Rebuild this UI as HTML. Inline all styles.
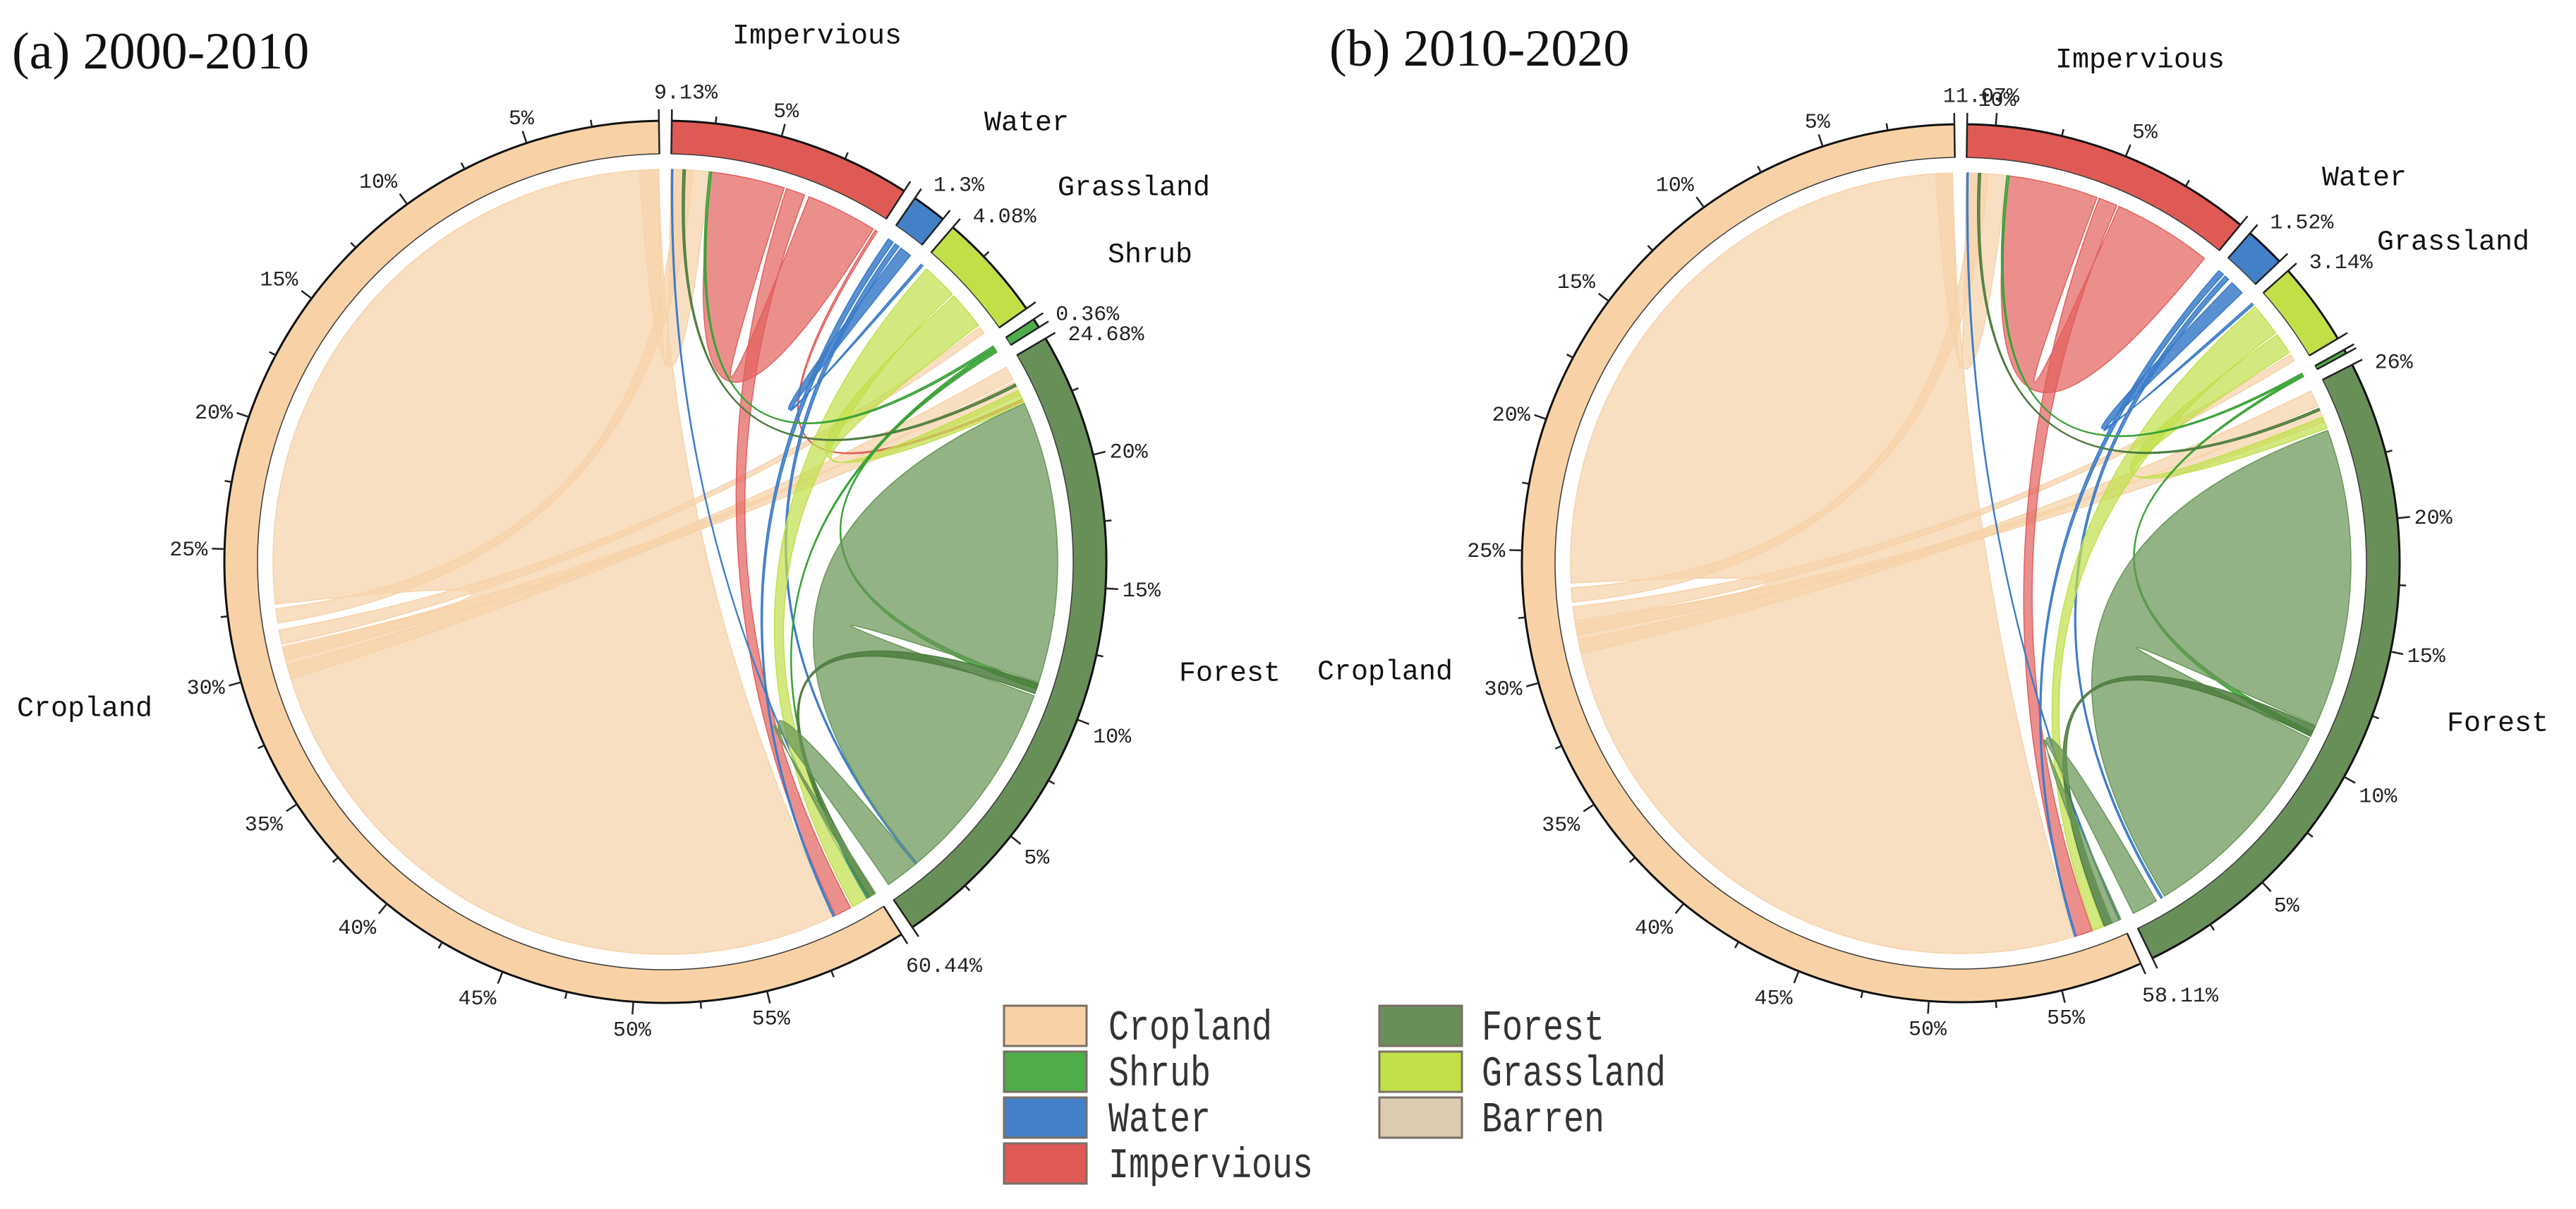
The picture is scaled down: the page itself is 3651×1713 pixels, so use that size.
<!DOCTYPE html>
<html><head><meta charset="utf-8">
<style>
html,body{margin:0;padding:0;background:#fff;}
svg{display:block;}
</style></head>
<body>
<svg id="chart" width="3651" height="1713" viewBox="0 0 3651 1713" xmlns="http://www.w3.org/2000/svg">
<rect x="0" y="0" width="3651" height="1713" fill="#ffffff"/>
<text x="17" y="97" font-family="Liberation Serif, serif" font-size="74" fill="#111">(a) 2000-2010</text>
<text x="1884" y="93" font-family="Liberation Serif, serif" font-size="74" fill="#111">(b) 2010-2020</text>
<g id="pa"></g>
<g id="pb"></g>
<g id="legend"></g>
</svg>
<script>
// ---- data ----
const classOrder = ['Impervious','Water','Grassland','Shrub','Forest','Cropland'];
const sharesA = [9.13, 1.3, 4.08, 0.36, 24.68, 60.44];
const sharesB = [11.07, 1.52, 3.14, 0.16, 26.0, 58.11];
const totalLabelsA = ['9.13%','1.3%','4.08%','0.36%','24.68%','60.44%'];
const totalLabelsB = ['11.07%','1.52%','3.14%','','26%','58.11%'];
// flows: [source, srcFrom%, srcTo%, target, dstFrom%, dstTo%, colourClass]
const flowsA = [
 ['Cropland',2.0,31.4,'Cropland',33.2,60.4,'Cropland'],
 ['Cropland',59.6,60.4,'Impervious',0,1.6,'Cropland'],
 ['Cropland',32.4,33.0,'Impervious',0.2,0.9,'Cropland'],
 ['Cropland',30.0,30.6,'Forest',0.2,0.8,'Cropland'],
 ['Cropland',30.8,31.3,'Forest',0.9,1.5,'Cropland'],
 ['Cropland',31.5,32.1,'Grassland',3.6,3.9,'Cropland'],
 ['Impervious',1.7,4.8,'Impervious',5.9,8.9,'Impervious'],
 ['Impervious',4.9,5.7,'Cropland',1.2,1.9,'Impervious'],
 ['Impervious',9.0,9.1,'Forest',1.7,1.8,'Impervious'],
 ['Impervious',0.02,0.08,'Cropland',0.38,0.42,'Water'],
 ['Water',0.05,0.3,'Cropland',1.95,2.02,'Water'],
 ['Water',0.4,0.6,'Forest',23.0,23.08,'Water'],
 ['Water',0.7,1.2,'Grassland',0.0,0.1,'Water'],
 ['Grassland',0.3,1.8,'Cropland',0.45,1.1,'Grassland'],
 ['Grassland',1.9,3.5,'Forest',1.3,1.9,'Grassland'],
 ['Shrub',0.0,0.1,'Impervious',1.6,1.7,'Shrub'],
 ['Shrub',0.1,0.2,'Cropland',0.3,0.36,'Shrub'],
 ['Shrub',0.2,0.3,'Forest',13.9,14.1,'Shrub'],
 ['Forest',1.9,13.8,'Forest',14.4,23.0,'Forest'],
 ['Forest',13.85,14.3,'Cropland',0.05,0.3,'ForestDark'],
 ['Forest',23.1,24.5,'Cropland',0.0,0.25,'Forest'],
 ['Forest',1.0,1.1,'Impervious',0.5,0.6,'ForestDark']
];
const flowsB = [
 ['Cropland',2.1,30.2,'Cropland',31.8,58.0,'Cropland'],
 ['Cropland',57.3,58.0,'Impervious',0,1.7,'Cropland'],
 ['Cropland',31.0,31.6,'Impervious',0.2,0.9,'Cropland'],
 ['Cropland',28.8,29.4,'Forest',0.2,0.9,'Cropland'],
 ['Cropland',29.6,30.1,'Forest',1.0,1.6,'Cropland'],
 ['Cropland',30.2,30.8,'Grassland',2.7,3.0,'Cropland'],
 ['Impervious',1.8,5.6,'Impervious',6.6,10.8,'Impervious'],
 ['Impervious',5.7,6.5,'Cropland',1.3,2.0,'Impervious'],
 ['Impervious',0.02,0.08,'Cropland',0.05,0.1,'Water'],
 ['Water',0.05,0.3,'Cropland',2.0,2.07,'Water'],
 ['Water',0.4,0.6,'Forest',24.5,24.58,'Water'],
 ['Water',0.8,1.4,'Grassland',0.0,0.1,'Water'],
 ['Grassland',0.2,1.6,'Cropland',0.8,1.25,'Grassland'],
 ['Grassland',1.7,2.6,'Forest',1.4,1.9,'Grassland'],
 ['Shrub',0.0,0.08,'Impervious',1.7,1.8,'Shrub'],
 ['Shrub',0.08,0.16,'Forest',15.0,15.2,'Shrub'],
 ['Forest',2.0,14.7,'Forest',15.3,24.4,'Forest'],
 ['Forest',14.75,15.2,'Cropland',0.4,0.75,'ForestDark'],
 ['Forest',24.8,25.9,'Cropland',0.0,0.4,'Forest'],
 ['Forest',1.0,1.1,'Impervious',0.5,0.6,'ForestDark']
];
const legendClasses = ['Cropland','Shrub','Water','Impervious','Forest','Grassland','Barren'];

// ---- style ----
const ringColor = {Cropland:'#f8d2a6',Impervious:'#df5a55',Water:'#4280c8',Grassland:'#c1e048',Shrub:'#4fad49',Forest:'#698f58',Barren:'#dccbb1'};
const ribColor = {Cropland:'#f6d2a9',Impervious:'#e25f5c',Water:'#3c7cc8',Grassland:'#c0e04a',Shrub:'#3aa236',Forest:'#6a9658',ForestDark:'#4d7d3e'};
const ribOpacity = {Cropland:0.72,Impervious:0.7,Water:0.85,Grassland:0.7,Shrub:0.85,Forest:0.72,ForestDark:0.85};
const NS='http://www.w3.org/2000/svg';
const S=3.5;

function mk(tag,parent){const e=document.createElementNS(NS,tag);parent.appendChild(e);return e;}
function pt(cx,cy,r,deg){const a=deg*Math.PI/180;return [cx+r*Math.sin(a),cy-r*Math.cos(a)];}

function drawPanel(g,cx,cy,rOut,shares,totals,flows,tag){
  const rIn=rOut-47, R=rIn-22;
  const sum=shares.reduce((a,b)=>a+b,0);
  const gap=(360-sum*S)/shares.length;
  const seg={};
  let a=gap/2;
  classOrder.forEach((c,i)=>{seg[c]=[a,a+shares[i]*S];a+=shares[i]*S+gap;});
  const rg=mk('g',g);
  
  
  flows.forEach(f=>{
    const a0=seg[f[0]][0]+f[1]*S, a1=seg[f[0]][0]+f[2]*S;
    const b0=seg[f[3]][0]+f[4]*S, b1=seg[f[3]][0]+f[5]*S;
    const p0=pt(cx,cy,R,a0),p1=pt(cx,cy,R,a1),q0=pt(cx,cy,R,b0),q1=pt(cx,cy,R,b1);
    const la=(a1-a0)>180?1:0, lb=(b1-b0)>180?1:0;
    const d=`M${p0[0]},${p0[1]} A${R},${R} 0 ${la} 1 ${p1[0]},${p1[1]} Q${cx},${cy} ${q0[0]},${q0[1]} A${R},${R} 0 ${lb} 1 ${q1[0]},${q1[1]} Q${cx},${cy} ${p0[0]},${p0[1]} Z`;
    const p=mk('path',rg);
    p.setAttribute('d',d);
    p.setAttribute('fill',ribColor[f[6]]);
    p.setAttribute('fill-opacity',ribOpacity[f[6]]);
    p.setAttribute('stroke',ribColor[f[6]]);
    p.setAttribute('stroke-width','1.5');
    
    
  });
  classOrder.forEach((c,i)=>{
    const [s,e]=seg[c];
    const la=(e-s)>180?1:0;
    const o0=pt(cx,cy,rOut,s),o1=pt(cx,cy,rOut,e),i0=pt(cx,cy,rIn,s),i1=pt(cx,cy,rIn,e);
    const p=mk('path',g);
    p.setAttribute('d',`M${o0[0]},${o0[1]} A${rOut},${rOut} 0 ${la} 1 ${o1[0]},${o1[1]} L${i1[0]},${i1[1]} A${rIn},${rIn} 0 ${la} 0 ${i0[0]},${i0[1]} Z`);
    p.setAttribute('fill',ringColor[c]);
    p.setAttribute('stroke','#3a3a3a');
    p.setAttribute('stroke-width','1.5');
    
    
    const ol=mk('path',g);
    ol.setAttribute('d',`M${o0[0]},${o0[1]} A${rOut},${rOut} 0 ${la} 1 ${o1[0]},${o1[1]}`);
    ol.setAttribute('fill','none');ol.setAttribute('stroke','#111');ol.setAttribute('stroke-width','3');
    
    
    [s,e].forEach(ang=>{
      const u=pt(cx,cy,rIn,ang),v=pt(cx,cy,rOut+16,ang);
      const l=mk('line',g);
      l.setAttribute('x1',u[0]);l.setAttribute('y1',u[1]);l.setAttribute('x2',v[0]);l.setAttribute('y2',v[1]);
      l.setAttribute('stroke','#222');l.setAttribute('stroke-width','2.5');
      
      
    });
    for(let v=2.5; v<shares[i]-1.01; v+=2.5){
      const ang=e-v*S;
      const major=Math.abs(v/5-Math.round(v/5))<1e-6;
      const u=pt(cx,cy,rOut,ang),w=pt(cx,cy,rOut+(major?18:10),ang);
      const l=mk('line',g);
      l.setAttribute('x1',u[0]);l.setAttribute('y1',u[1]);l.setAttribute('x2',w[0]);l.setAttribute('y2',w[1]);
      l.setAttribute('stroke','#222');l.setAttribute('stroke-width','2.5');
      
      
      if(major){
        const sn=Math.sin(ang*Math.PI/180),cs=Math.cos(ang*Math.PI/180);
        const lp=pt(cx,cy,rOut+24,ang);
        const t=mk('text',g);
        t.setAttribute('x',lp[0]);t.setAttribute('y',lp[1]);
        t.setAttribute('font-family','Liberation Mono, monospace');
        t.setAttribute('font-size','30');t.setAttribute('fill','#222');
        t.setAttribute('text-anchor',sn>0.35?'start':(sn<-0.35?'end':'middle'));
        t.setAttribute('dy',cs>0.35?'-4':(cs<-0.35?'24':'10'));
        
        
        t.textContent=Math.round(v)+'%';
      }
    }
    if(totals[i]){
      const lp=pt(cx,cy,rOut+30,s+1.0);
      const t=mk('text',g);
      t.setAttribute('x',s<5?lp[0]+8:lp[0]);t.setAttribute('y',lp[1]);
      t.setAttribute('font-family','Liberation Mono, monospace');
      t.setAttribute('font-size','30');t.setAttribute('fill','#222');
      t.setAttribute('text-anchor',s<5?'middle':'start');
      t.setAttribute('dy',s<5?'-2':(s>120?'22':'8'));
      
      
      t.textContent=totals[i];
    }
  });
}
drawPanel(document.getElementById('pa'),943,796,625,sharesA,totalLabelsA,flowsA,'panel-a');
drawPanel(document.getElementById('pb'),2779,798,622,sharesB,totalLabelsB,flowsB,'panel-b');

const nameLabels=[
 ['Impervious',1158,52,'panel-a'],['Water',1455,175,'panel-a'],['Grassland',1607,267,'panel-a'],['Shrub',1630,362,'panel-a'],['Forest',1743,955,'panel-a'],['Cropland',120,1005,'panel-a'],
 ['Impervious',3033,86,'panel-b'],['Water',3351,253,'panel-b'],['Grassland',3477,344,'panel-b'],['Forest',3540,1026,'panel-b'],['Cropland',1963,953,'panel-b']
];
const svg=document.getElementById('chart');
nameLabels.forEach(n=>{
  const t=mk('text',svg);
  t.setAttribute('x',n[1]);t.setAttribute('y',n[2]);
  t.setAttribute('text-anchor','middle');t.setAttribute('dominant-baseline','central');
  t.setAttribute('font-family','Liberation Mono, monospace');t.setAttribute('font-size','40');t.setAttribute('fill','#111');
  
  
  t.textContent=n[0];
});

const lg=document.getElementById('legend');
legendClasses.forEach((c,i)=>{
  const col=i<4?0:1, row=i<4?i:i-4;
  const bx=col?1955:1423, by=1425+row*65;
  const r=mk('rect',lg);
  r.setAttribute('x',bx);r.setAttribute('y',by);r.setAttribute('width',117);r.setAttribute('height',57);
  r.setAttribute('fill',ringColor[c]);r.setAttribute('stroke','#7a6f66');r.setAttribute('stroke-width','3');
  
  
  const t=mk('text',lg);
  t.setAttribute('x',col?2100:1571);t.setAttribute('y',by+48);
  t.setAttribute('font-family','Liberation Mono, monospace');t.setAttribute('font-size','60');t.setAttribute('fill','#333');
  t.setAttribute('textLength',c.length*29);t.setAttribute('lengthAdjust','spacingAndGlyphs');
  
  
  t.textContent=c;
});
</script>
</body></html>
